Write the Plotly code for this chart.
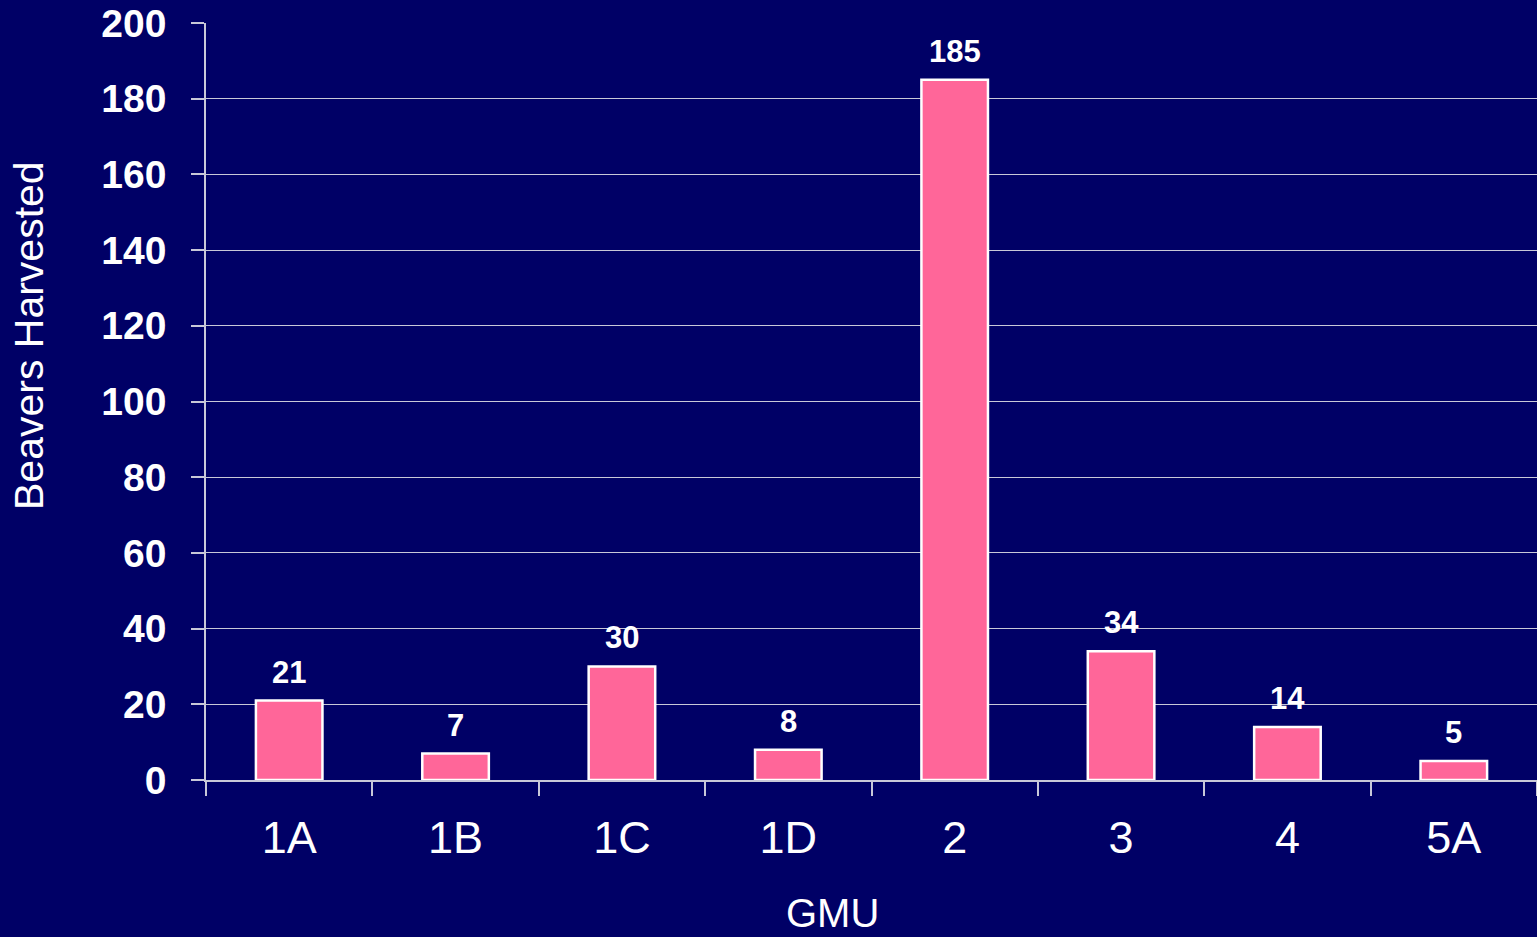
import plotly.graph_objects as go

categories = ["1A", "1B", "1C", "1D", "2", "3", "4", "5A"]
harvested = [21, 7, 30, 8, 185, 34, 14, 5]
y_ticks = [0, 20, 40, 60, 80, 100, 120, 140, 160, 180, 200]

BG = "#000066"
BAR = "#FF6699"
GRID = "#C8C8D8"
FONT = "Arial, Liberation Sans, sans-serif"

fig = go.Figure()
fig.add_trace(go.Bar(
    x=categories, y=harvested, width=0.4,
    marker=dict(color=BAR, line=dict(color="white", width=2.5)),
    hoverinfo="skip",
))

for i, v in enumerate(harvested):
    fig.add_annotation(x=i, y=v, text=f"<b>{v}</b>", showarrow=False,
                       xref="x", yref="y",
                       yanchor="bottom", yshift=9,
                       font=dict(family=FONT, size=31, color="white"))

# y-axis title (placed off-center as in the reference)
fig.add_annotation(text="Beavers Harvested", textangle=-90, showarrow=False,
                   xref="paper", yref="paper", x=0, y=0.5865,
                   xanchor="center", yanchor="middle", xshift=-177,
                   font=dict(family=FONT, size=41, color="white"))

# x-axis title (off-center, near the bottom edge as in the reference)
fig.add_annotation(text="GMU", showarrow=False,
                   xref="paper", yref="paper", x=0, y=0,
                   xanchor="center", yanchor="bottom", xshift=626, yshift=-157,
                   font=dict(family=FONT, size=40, color="white"))

fig.update_layout(
    width=1537, height=937,
    paper_bgcolor=BG, plot_bgcolor=BG,
    margin=dict(l=206, r=0, t=23, b=157),
    showlegend=False,
    font=dict(family=FONT, color="white"),
    bargap=0.6,
)
fig.update_yaxes(
    range=[0, 200], tickvals=y_ticks, ticktext=[f"<b>{t}</b>" for t in y_ticks],
    showgrid=True, gridcolor=GRID, gridwidth=1,
    showline=True, linecolor=GRID, linewidth=1.5,
    ticks="outside", ticklen=13, tickcolor=GRID, tickwidth=1.5,
    tickfont=dict(family=FONT, size=39, color="white"),
    ticklabelstandoff=17, zeroline=False,
    automargin=False,
)
fig.update_xaxes(
    showline=True, linecolor=GRID, linewidth=1.5,
    ticks="outside", tickson="boundaries", ticklen=14, tickcolor=GRID, tickwidth=1.5,
    tickfont=dict(family=FONT, size=45, color="white"),
    ticklabelstandoff=17, showgrid=False,
    automargin=False,
)

fig.write_html("out.html", config={"displayModeBar": False},
               post_script="document.body.style.margin='0';document.body.style.background='#000066';")
